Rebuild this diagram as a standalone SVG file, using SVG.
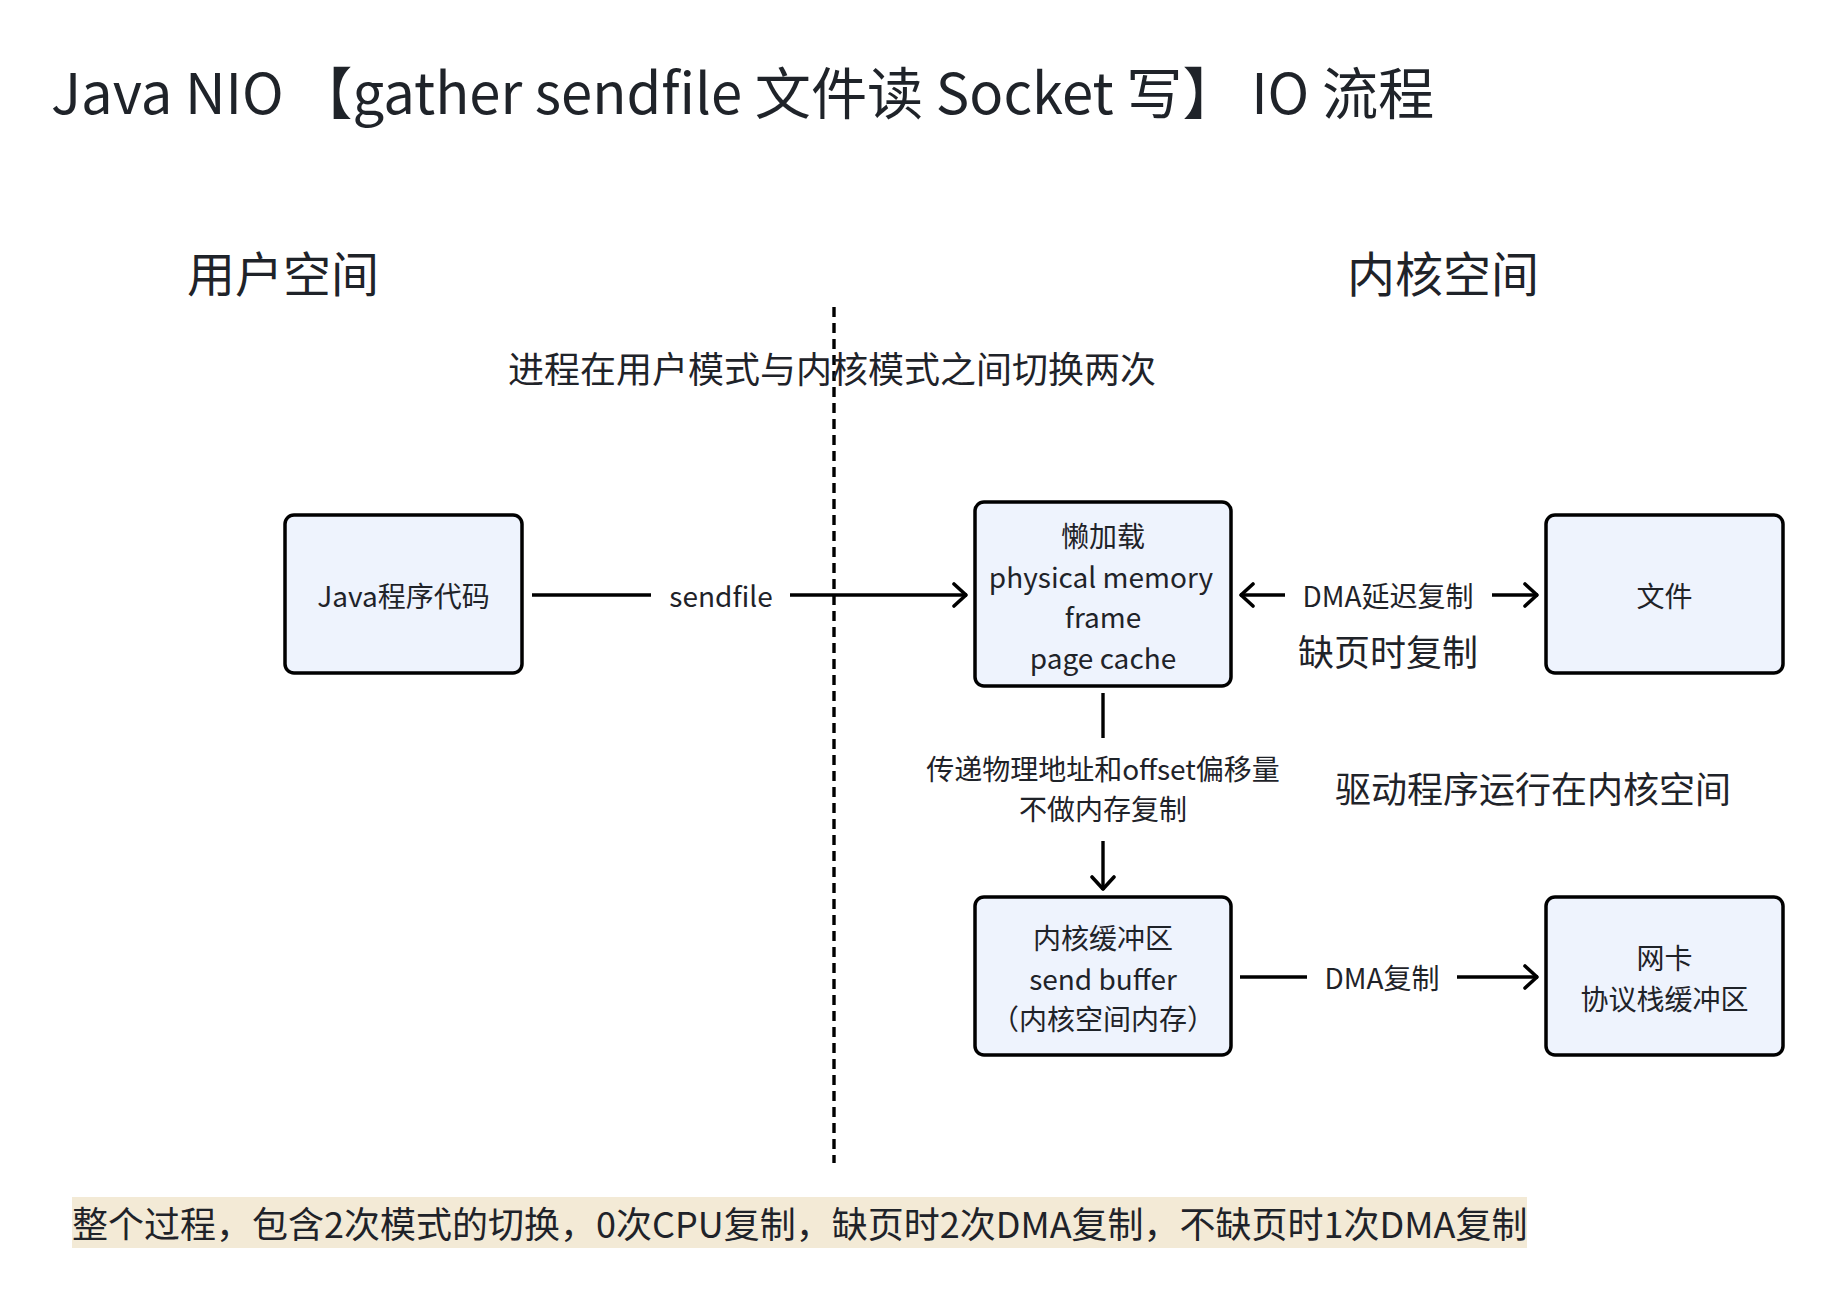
<svg xmlns="http://www.w3.org/2000/svg" width="1832" height="1294" viewBox="0 0 1832 1294">
<defs>
<style>
text{font-family:"Noto Sans CJK SC","Noto Sans",sans-serif;fill:#1f2329;}
.node{fill:#eef3fd;stroke:#000;stroke-width:3.5;}
.nt{font-size:28px;text-anchor:middle;dominant-baseline:central;}
.ct{font-size:28px;text-anchor:middle;dominant-baseline:central;}
.edge{stroke:#000;stroke-width:3.4;fill:none;}
</style>
<marker id="ah" markerUnits="userSpaceOnUse" viewBox="0 0 20 26" refX="18" refY="13" markerWidth="20" markerHeight="26" orient="auto">
<path d="M5,2 L17,13 L5,24" fill="none" stroke="#000" stroke-width="3.6" stroke-linecap="round" stroke-linejoin="round"/>
</marker>
</defs>
<rect width="1832" height="1294" fill="#fff"/>
<text x="51" y="114" font-size="56.2">Java NIO 【gather sendfile 文件读 Socket 写】 IO 流程</text>
<text x="187" y="292" font-size="48">用户空间</text>
<text x="1347" y="292" font-size="48">内核空间</text>
<line x1="834" y1="307" x2="834" y2="1163" stroke="#000" stroke-width="3.4" stroke-dasharray="10 6"/>
<text x="508" y="383" font-size="36">进程在用户模式与内核模式之间切换两次</text>
<text x="1388" y="650" font-size="36" text-anchor="middle" dominant-baseline="central">缺页时复制</text>
<text x="1335" y="787" font-size="36" dominant-baseline="central">驱动程序运行在内核空间</text>
<g id="connectors">
<line class="edge" x1="532" y1="595" x2="651" y2="595"/>
<text class="ct" x="721" y="595">sendfile</text>
<line class="edge" x1="790" y1="595" x2="967" y2="595" marker-end="url(#ah)"/>
<line class="edge" x1="1285" y1="595" x2="1240" y2="595" marker-end="url(#ah)"/>
<text class="ct" x="1388" y="595">DMA延迟复制</text>
<line class="edge" x1="1492" y1="595" x2="1538" y2="595" marker-end="url(#ah)"/>
<line class="edge" x1="1103" y1="693" x2="1103" y2="738"/>
<text class="ct" x="1103" y="768">传递物理地址和offset偏移量</text>
<text class="ct" x="1103" y="808">不做内存复制</text>
<line class="edge" x1="1103" y1="841" x2="1103" y2="890" marker-end="url(#ah)"/>
<line class="edge" x1="1240" y1="977" x2="1307" y2="977"/>
<text class="ct" x="1382" y="977">DMA复制</text>
<line class="edge" x1="1457" y1="977" x2="1538" y2="977" marker-end="url(#ah)"/>
</g>
<g id="node-java">
<rect class="node" x="285" y="515" width="237" height="158" rx="9"/>
<text class="nt" x="403.5" y="595">Java程序代码</text>
</g>
<g id="node-pagecache">
<rect class="node" x="975" y="502" width="256" height="184" rx="9"/>
<text class="nt" x="1103" y="535">懒加载</text>
<text class="nt" x="1101" y="576">physical memory</text>
<text class="nt" x="1103" y="616">frame</text>
<text class="nt" x="1103" y="657">page cache</text>
</g>
<g id="node-file">
<rect class="node" x="1546" y="515" width="237" height="158" rx="9"/>
<text class="nt" x="1664.5" y="595">文件</text>
</g>
<g id="node-sendbuffer">
<rect class="node" x="975" y="897" width="256" height="158" rx="9"/>
<text class="nt" x="1103" y="937">内核缓冲区</text>
<text class="nt" x="1103" y="978">send buffer</text>
<text class="nt" x="1103" y="1018">（内核空间内存）</text>
</g>
<g id="node-nic">
<rect class="node" x="1546" y="897" width="237" height="158" rx="9"/>
<text class="nt" x="1664.5" y="957">网卡</text>
<text class="nt" x="1664.5" y="998">协议栈缓冲区</text>
</g>
<rect x="72" y="1197" width="1455" height="51" fill="#f3ead6"/>
<text x="72" y="1238" font-size="36">整个过程，包含2次模式的切换，0次CPU复制，缺页时2次DMA复制，不缺页时1次DMA复制</text>
</svg>
